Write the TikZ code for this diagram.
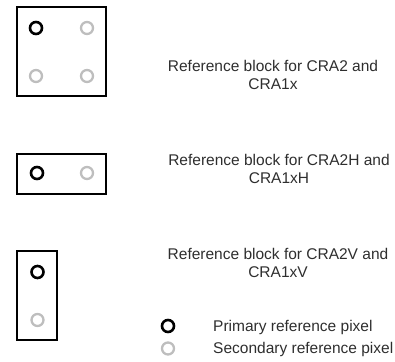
\documentclass[tikz,border=0pt]{standalone}
\usepackage{fontspec}
\setmainfont{Liberation Sans}
\definecolor{secgray}{RGB}{190,190,190}
\begin{document}
\begin{tikzpicture}[x=1pt,y=-1pt,
  blockbox/.style={draw=black,line width=2pt},
  prim/.style={circle,draw=black,line width=2.6pt,minimum size=12pt,inner sep=0pt},
  sec/.style={circle,draw=secgray,line width=2.3pt,minimum size=12pt,inner sep=0pt},
  lbl/.style={font=\fontsize{15.5}{18}\selectfont,text=black!82,align=center,inner sep=0pt},
  leg/.style={font=\fontsize{15.5}{18}\selectfont,text=black!82,inner sep=0pt,anchor=base west}]
\useasboundingbox (0,0) rectangle (395,361);
% top block
\draw[blockbox] (17,7) rectangle (106,96);
\node[prim] (a1) at (36,28) {};
\node[sec] (a2) at (87,28) {};
\node[sec] (a3) at (36,76) {};
\node[sec] (a4) at (87,76) {};
\node[lbl] (t1) at (273,75.4) {Reference block for CRA2 and\\CRA1x};
% middle block
\draw[blockbox] (17,154) rectangle (106,193.5);
\node[prim] (b1) at (37,173) {};
\node[sec] (b2) at (87,173) {};
\node[lbl] (t2) at (279,169.4) {Reference block for CRA2H and\\CRA1xH};
% bottom block
\draw[blockbox] (17,251) rectangle (57,340);
\node[prim] (c1) at (37.5,272) {};
\node[sec] (c2) at (37.5,320) {};
\node[lbl] (t3) at (278,263.4) {Reference block for CRA2V and\\CRA1xV};
% legend
\node[prim] (l1) at (168,326) {};
\node[sec] (l2) at (168,348.5) {};
\node[leg] (lt1) at (213,331.4) {Primary reference pixel};
\node[leg] (lt2) at (213,353.6) {Secondary reference pixel};
\end{tikzpicture}
\end{document}
